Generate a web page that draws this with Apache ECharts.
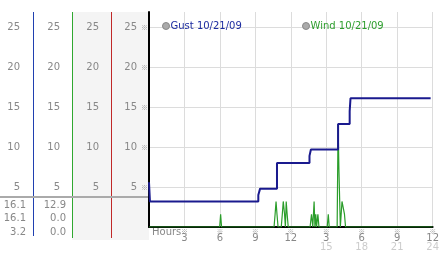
<!DOCTYPE html>
<html>
<head>
<meta charset="utf-8">
<script src="https://cdn.jsdelivr.net/npm/echarts@6/dist/echarts.min.js"></script>
<style>
html, body { margin: 0; padding: 0; background: #fff; }
#chart { width: 442px; height: 253px; }
</style>
</head>
<body>
<div id="chart"></div>
<script>
// hours since midnight -> value (km/h), gust only at the points where it changes
const gustHours  = [0, 0.08, 9.25, 9.4, 10.83, 13.58, 13.7, 16.0, 16.98, 17.05, 23.83]
const gustValues = [5.6, 3.2, 4.0, 4.8, 8.0, 8.9, 9.7, 12.9, 14.5, 16.1, 16.1]

const windHours  = [0, 5.98, 6.06, 6.14, 10.58, 10.67, 10.75, 10.83, 10.92, 11.19, 11.28, 11.36, 11.47, 11.54, 11.61, 11.69, 11.78,
                    13.63, 13.75, 13.86, 13.97, 14.04, 14.11, 14.18, 14.29, 14.38, 15.08, 15.17, 15.25,
                    15.92, 16.0, 16.07, 16.19, 16.33, 16.46, 16.54, 16.63, 24]
const windValues = [0, 0, 1.6, 0, 0, 1.6, 3.2, 1.6, 0, 0, 1.6, 3.2, 1.6, 0, 3.2, 1.6, 0,
                    0, 1.6, 0, 3.2, 0, 1.6, 0, 1.6, 0, 0, 1.6, 0,
                    0, 12.9, 7.2, 0, 3.2, 3.2, 1.6, 0, 0]

const yTicks   = [5, 10, 15, 20, 25]
const xTicks   = [0, 3, 6, 9, 12, 15, 18, 21, 24]
const xTop     = ['', '3', '6', '9', '12', '3', '6', '9', '12']
const xBottom  = ['', '', '', '', '', '15', '18', '21', '24']
const xName    = 'Hours'

const gustStats = ['16.1', '16.1', '3.2']
const windStats = ['12.9', '0.0', '0.0']

const FONT = 'DejaVu Sans'
const MARK_FONT = 'Noto Sans CJK SC'
const Y_MAX = 26.9

const chart = echarts.init(document.getElementById('chart'))

function yLabel(v) {
  return yTicks.includes(v) ? String(v) : ''
}

// extra label columns on the left (same scale as the plot)
function sideAxis(margin) {
  return {
    type: 'value', min: 0, max: Y_MAX, interval: 5, position: 'left',
    axisLine: { show: false }, axisTick: { show: false }, splitLine: { show: false },
    axisLabel: { margin: margin, color: '#888', fontSize: 10, fontFamily: FONT, formatter: yLabel }
  }
}

function legendFor(name, left, color) {
  return {
    left: left, top: 16, icon: 'circle', itemWidth: 7, itemHeight: 7,
    selectedMode: false,
    textStyle: { fontSize: 10, fontFamily: FONT, color: color, padding: [0, 0, 0, -4] },
    data: [{ name: name, itemStyle: { color: '#aaa', borderColor: '#888', borderWidth: 1 } }]
  }
}

function grayText(s, x, y, align) {
  return { type: 'text', x: x, y: y,
    style: { text: s, align: align, verticalAlign: 'middle', fill: '#888', font: '10px ' + FONT } }
}

const statText = []
gustStats.forEach((s, i) => statText.push(grayText(s, 26, 205 + i * 13.5, 'right')))
windStats.forEach((s, i) => statText.push(grayText(s, 66, 205 + i * 13.5, 'right')))

chart.setOption({
  animation: false,
  textStyle: { fontFamily: FONT },
  grid: { left: 149, right: 5, top: 12, bottom: 26 },
  legend: [
    legendFor('Gust 10/21/09', 157, '#1c2ca0'),
    legendFor('Wind 10/21/09', 297, '#2e9e2e')
  ],
  graphic: [
    { type: 'rect', shape: { x: 72, y: 12, width: 77, height: 228 }, style: { fill: '#f4f4f4' }, z: -10 },
    { type: 'line', shape: { x1: 33.5, y1: 12, x2: 33.5, y2: 236 }, style: { stroke: '#2040b0', lineWidth: 1 } },
    { type: 'line', shape: { x1: 72.5, y1: 12, x2: 72.5, y2: 238 }, style: { stroke: '#30a830', lineWidth: 1 } },
    { type: 'line', shape: { x1: 111.5, y1: 12, x2: 111.5, y2: 238 }, style: { stroke: '#c02828', lineWidth: 1 } },
    { type: 'line', shape: { x1: 0, y1: 197, x2: 148, y2: 197 }, style: { stroke: '#aaa', lineWidth: 2 } },
    grayText(xName, 152, 232, 'left'),
    ...statText
  ],
  xAxis: {
    type: 'value', min: 0, max: 24, interval: 3,
    axisLine: { lineStyle: { color: '#000', width: 2 } },
    axisTick: { show: false },
    splitLine: { lineStyle: { color: '#dcdcdc' } },
    axisLabel: {
      margin: 1, interval: 0, hideOverlap: false, showMaxLabel: true,
      formatter: v => {
        const i = xTicks.indexOf(v)
        if (i <= 0) return ''
        let s = '{m|※}\n{n|' + xTop[i] + '}'
        if (xBottom[i]) s += '\n{g|' + xBottom[i] + '}'
        return s
      },
      rich: {
        m: { fontSize: 7, color: '#999', lineHeight: 6, fontFamily: MARK_FONT },
        n: { fontSize: 10, color: '#888', lineHeight: 9, fontFamily: FONT },
        g: { fontSize: 10, color: '#ccc', lineHeight: 9, fontFamily: FONT }
      }
    }
  },
  yAxis: [
    {
      type: 'value', min: 0, max: Y_MAX, interval: 5,
      axisLine: { show: true, lineStyle: { color: '#000', width: 2 } },
      axisTick: { show: false },
      splitLine: { showMaxLine: false, lineStyle: { color: '#dcdcdc' } },
      axisLabel: {
        margin: 1,
        formatter: v => yTicks.includes(v) ? '{n|' + v + '}{m|※}' : '',
        rich: {
          n: { fontSize: 10, color: '#888', fontFamily: FONT },
          m: { fontSize: 7, color: '#999', padding: [0, 0, 0, 4], fontFamily: MARK_FONT }
        }
      }
    },
    sideAxis(50),
    sideAxis(89),
    sideAxis(129)
  ],
  series: [
    {
      name: 'Gust 10/21/09', type: 'line', step: 'end', showSymbol: false, z: 4,
      data: gustHours.map((h, i) => [h, gustValues[i]]),
      itemStyle: { color: '#1a1a8e' },
      lineStyle: { color: '#1a1a8e', width: 2 }
    },
    {
      name: 'Wind 10/21/09', type: 'line', showSymbol: false, z: 3,
      data: windHours.map((h, i) => [h, windValues[i]]),
      itemStyle: { color: '#2a9d2a' },
      lineStyle: { color: '#2a9d2a', width: 1.2 }
    }
  ]
})
</script>
</body>
</html>
